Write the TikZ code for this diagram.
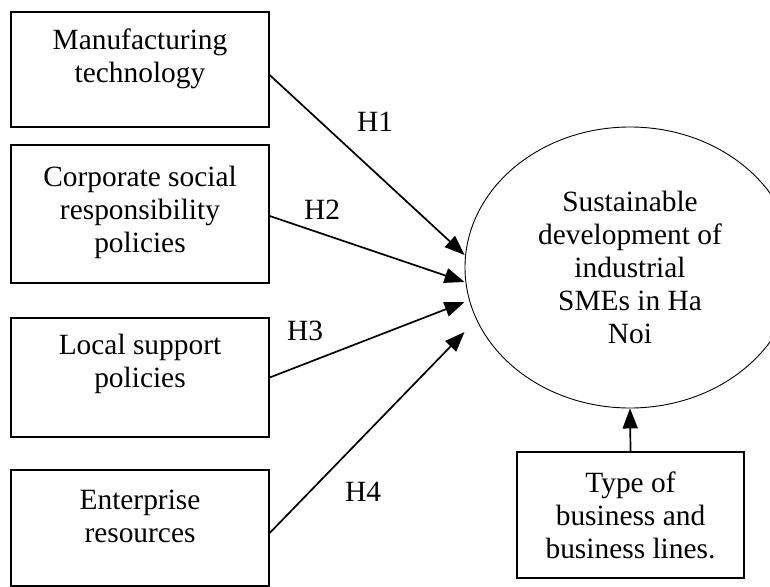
\documentclass[tikz,border=0pt]{standalone}
\usepackage{fontspec}
\setmainfont{Liberation Serif}
\usetikzlibrary{shapes.geometric, arrows.meta, positioning}

\begin{document}
\begin{tikzpicture}[
			x=1bp, y=-1bp,
			font={\fontsize{29.5}{33}\selectfont},
			% Boxes for the influencing factors
			factor/.style={draw, line width=1.4bp, minimum width=258bp, inner sep=0pt},
			factor text/.style={align=center, inner sep=0pt},
			% Dependent variable
			target/.style={draw, ellipse, line width=0.9bp, minimum width=330bp, minimum height=281bp, inner sep=0pt, align=center},
			% Hypothesis arrows and labels
			hyp/.style={line width=1.7bp, -{Triangle[length=20bp,width=15bp]}},
			hyp label/.style={inner sep=0pt}
			]
			
			\useasboundingbox (0,0) rectangle (770,587);
			\clip (0,0) rectangle (770,587);
			
			% ==============================================================================
			% FACTORS
			% ==============================================================================
			\node[factor, minimum height=115bp] (mfg) at (140,69.5) {};
			\node[factor text] (mfg-t) at (140,59) {Manufacturing\\technology};
			
			\node[factor, minimum height=138bp] (csr) at (140,214) {};
			\node[factor text] (csr-t) at (140,212.5) {Corporate social\\responsibility\\policies};
			
			\node[factor, minimum height=119bp] (lsp) at (140,377.5) {};
			\node[factor text] (lsp-t) at (140,363.5) {Local support\\policies};
			
			\node[factor, minimum height=116bp] (res) at (140,528) {};
			\node[factor text] (res-t) at (140,516.5) {Enterprise\\resources};
			
			% ==============================================================================
			% SUSTAINABLE DEVELOPMENT
			% ==============================================================================
			\node[target] (sd) at (630,267.5) {Sustainable\\development of\\industrial\\SMEs in Ha\\Noi};
			
			\node[factor, minimum width=227bp, minimum height=126bp, align=center] (type) at (630.5,515) {Type of\\business and\\business lines.};
			
			% ==============================================================================
			% HYPOTHESES
			% ==============================================================================
			\draw[hyp] ([yshift=-5.5bp]mfg.east) -- ([yshift=12.5bp]sd.west);
			\draw[hyp] ([yshift=-2bp]csr.east) -- ([yshift=-14.5bp]sd.west);
			\draw[hyp] (lsp.east) -- ([yshift=-34.5bp]sd.west);
			\draw[hyp] ([yshift=-5bp]res.east) -- ([yshift=-64.5bp]sd.west);
			\draw[hyp] (type.north) -- (sd.south);
			
			\node[hyp label] (h1) at (375,122) {H1};
			\node[hyp label] (h2) at (322,210) {H2};
			\node[hyp label] (h3) at (305,331) {H3};
			\node[hyp label] (h4) at (363,492) {H4};
			
		\end{tikzpicture}
\end{document}
